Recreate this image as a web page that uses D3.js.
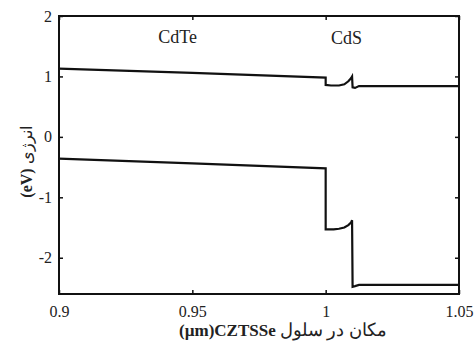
<!DOCTYPE html>
<html><head><meta charset="utf-8">
<script src="https://cdn.jsdelivr.net/npm/d3@7/dist/d3.min.js"></script>
<style>body{margin:0;background:#fff}svg{display:block}text{font-family:"Liberation Serif","DejaVu Serif",serif !important;fill:#222}</style>
</head><body><svg id="c" width="474" height="341"></svg>
<script>
const xTicks = [0.9, 0.95, 1, 1.05];
const yTicks = [-2, -1, 0, 1, 2];
const ecX = [0.9, 0.95, 1.0, 1.0, 1.002, 1.005, 1.007, 1.0085, 1.0095, 1.0099, 1.0101, 1.011, 1.0125, 1.05];
const ecY = [1.13, 1.06, 0.98, 0.86, 0.85, 0.85, 0.87, 0.92, 0.97, 1.0, 0.82, 0.81, 0.84, 0.84];
const evX = [0.9, 0.95, 1.0, 1.0, 1.003, 1.005, 1.007, 1.0085, 1.0095, 1.0099, 1.0101, 1.011, 1.0125, 1.05];
const evY = [-0.36, -0.44, -0.52, -1.53, -1.53, -1.52, -1.50, -1.46, -1.42, -1.38, -2.48, -2.47, -2.45, -2.45];
const labels = [{t:"CdTe", x:0.9445, y:1.56}, {t:"CdS", x:1.0078, y:1.54}];

const svg = d3.select("#c");
const L=59, R=459, T=16, B=294;
const x = d3.scaleLinear().domain([0.9,1.05]).range([L,R]);
const y = d3.scaleLinear().domain([-2.6,2]).range([B,T]);
const serif = '"Liberation Serif", "DejaVu Serif", serif';

const line = d3.line().x(d=>x(d[0])).y(d=>y(d[1]));
svg.append("path").datum(d3.zip(ecX,ecY)).attr("d",line).attr("fill","none").attr("stroke","#111").attr("stroke-width",2.2);
svg.append("path").datum(d3.zip(evX,evY)).attr("d",line).attr("fill","none").attr("stroke","#111").attr("stroke-width",2.2);

const fs = 16;
const gB = svg.append("g").attr("transform",`translate(0,${B})`).call(d3.axisBottom(x).tickValues(xTicks).tickSize(-4).tickPadding(12).tickFormat(d=>String(d)));
const gT = svg.append("g").attr("transform",`translate(0,${T})`).call(d3.axisTop(x).tickValues(xTicks).tickSize(-4).tickFormat(""));
const gL = svg.append("g").attr("transform",`translate(${L},0)`).call(d3.axisLeft(y).tickValues(yTicks).tickSize(-4).tickPadding(7).tickFormat(d=>String(d)));
const gR = svg.append("g").attr("transform",`translate(${R},0)`).call(d3.axisRight(y).tickValues(yTicks).tickSize(-4).tickFormat(""));
[gB,gT,gL,gR].forEach(g=>{
  g.attr("font-family",serif).attr("font-size",fs);
  g.select(".domain").remove();
  g.selectAll(".tick line").attr("stroke","#111").attr("stroke-width",1.5);
  g.selectAll("text").style("font-size",fs+"px").attr("fill","#333");
});
svg.append("rect").attr("x",L).attr("y",T).attr("width",R-L).attr("height",B-T).attr("fill","none").attr("stroke","#111").attr("stroke-width",2);

svg.selectAll(".lbl").data(labels).join("text").attr("class","lbl")
  .attr("x",d=>x(d.x)).attr("y",d=>y(d.y)).attr("text-anchor","middle").style("font-size","18px").attr("fill","#333").text(d=>d.t);

// y label
const yl = svg.append("text").attr("transform","translate(32,162) rotate(-90)").attr("text-anchor","middle").attr("direction","rtl").style("font-size","16px");
yl.append("tspan").text("انرژی ");
yl.append("tspan").style("font-weight","bold").text("(eV)");

// x label
const xl = svg.append("text").attr("x",283).attr("y",336).attr("text-anchor","middle").style("font-size","17px");
xl.append("tspan").style("font-weight","bold").text("(µm)CZTSSe ");
xl.append("tspan").style("font-size","18px").text("مکان در سلول");
</script></body></html>
